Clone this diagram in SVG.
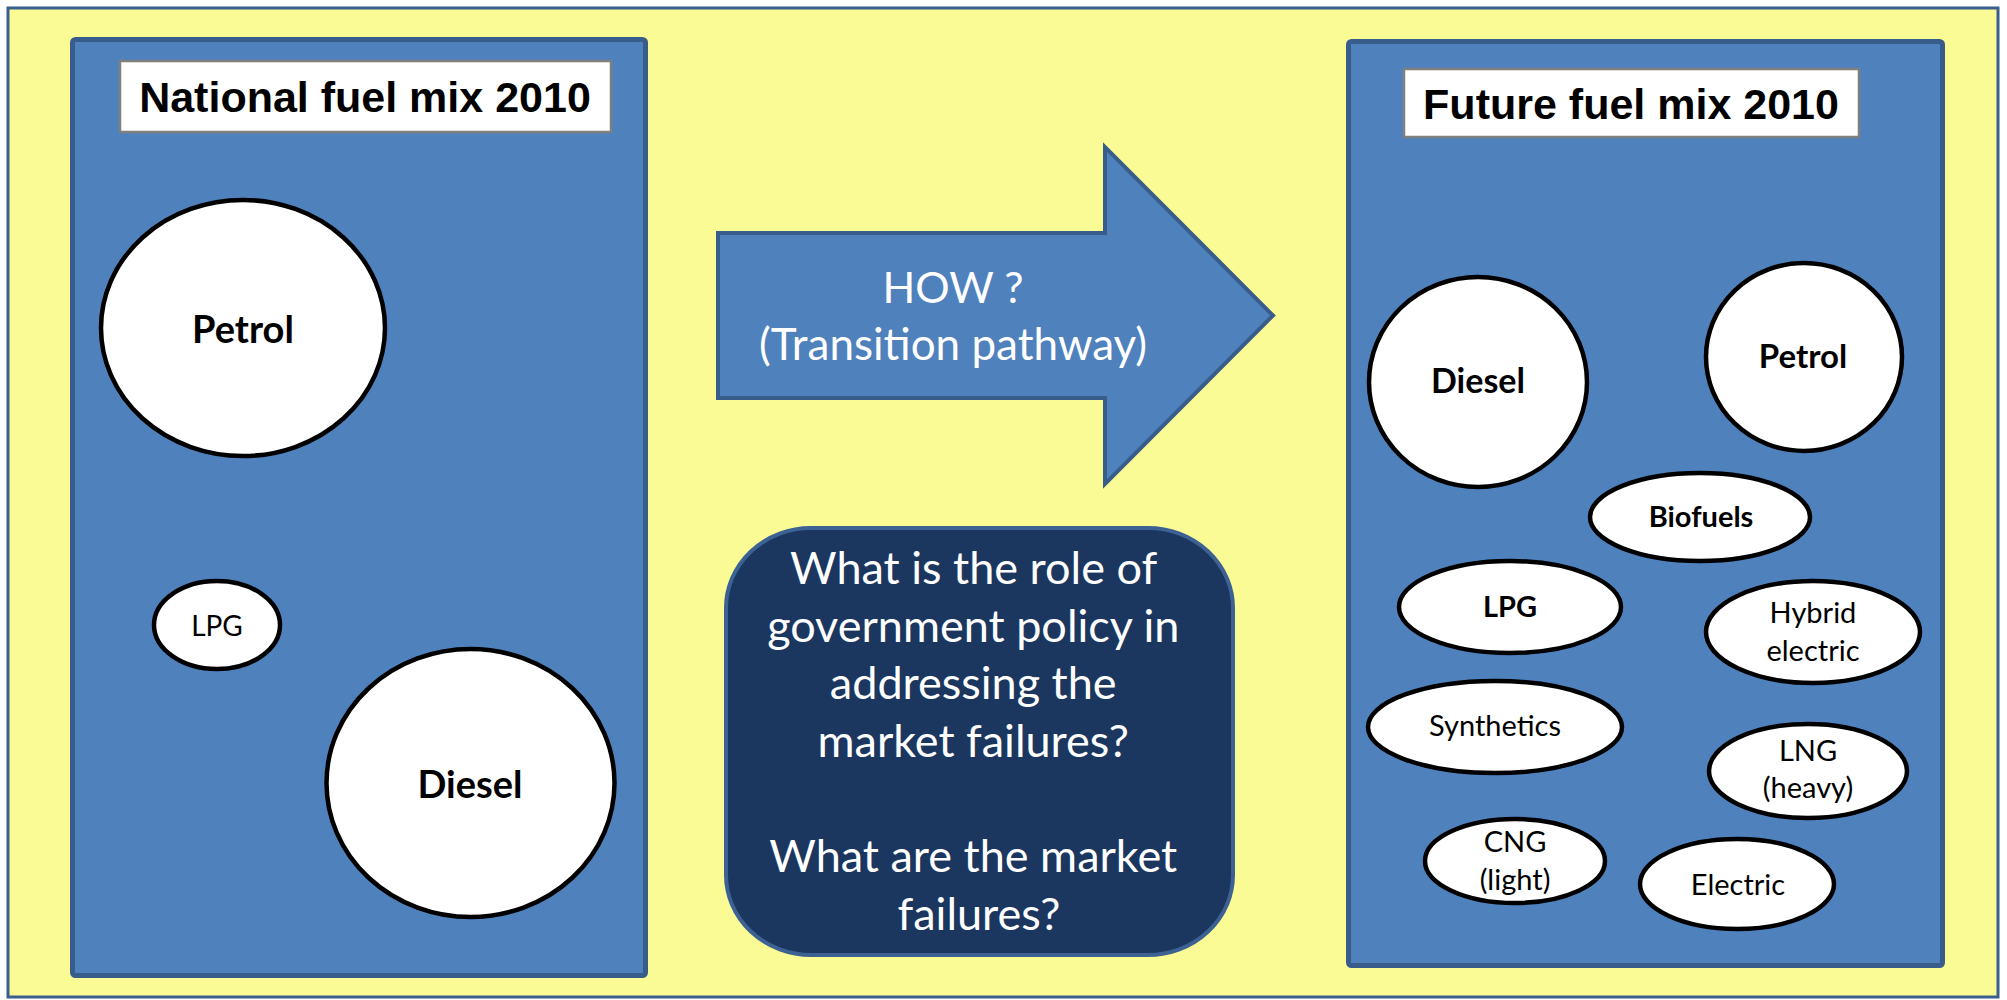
<svg xmlns="http://www.w3.org/2000/svg" width="2007" height="1000" viewBox="0 0 2007 1000">
<style>
.bg{fill:#FBFB96;stroke:#3A5F8F;stroke-width:3}
.panel{fill:#4F81BD;stroke:#385D8A;stroke-width:5}
.title{fill:#FFFFFF;stroke:#7F7F7F;stroke-width:2.5}
.title-t{font-family:"Liberation Sans",Arial,sans-serif;font-weight:bold;font-size:43px;fill:#000;text-anchor:middle}
.fuel{fill:#FFFFFF;stroke:#000;stroke-width:4.5}
.ft{font-family:Lato,"Open Sans",sans-serif;fill:#000;text-anchor:middle}
.b{font-weight:bold}
.arrow{fill:#4F81BD;stroke:#385D8A;stroke-width:4}
.q{fill:#1B375F;stroke:#3C6192;stroke-width:4}
.wt{font-family:Lato,"Open Sans",sans-serif;fill:#FFFFFF;text-anchor:middle}
</style>
<rect x="0" y="0" width="2007" height="1000" fill="#FFFFFF"/>
<rect id="background" class="bg" x="8" y="8" width="1990" height="989"/>

<g id="panel-national">
<rect class="panel" x="72.5" y="39.5" width="573" height="936" rx="3"/>
</g>
<g id="title-national">
<rect class="title" x="120" y="61" width="491" height="71"/>
<text class="title-t" x="365" y="112">National fuel mix 2010</text>
</g>
<g id="nat-petrol">
<ellipse class="fuel" cx="243" cy="328" rx="142" ry="128"/>
<text class="ft b" x="243" y="343" font-size="38">Petrol</text>
</g>
<g id="nat-lpg">
<ellipse class="fuel" cx="217" cy="625" rx="63" ry="44"/>
<text class="ft" x="217" y="636" font-size="28">LPG</text>
</g>
<g id="nat-diesel">
<ellipse class="fuel" cx="470.5" cy="783" rx="144" ry="134"/>
<text class="ft b" x="470" y="798" font-size="38">Diesel</text>
</g>

<g id="transition-arrow">
<polygon class="arrow" points="718,233 1105,233 1105,147 1273,315.5 1105,484 1105,398 718,398"/>
<text class="wt" x="953" y="303" font-size="43">HOW ?</text>
<text class="wt" x="953" y="360" font-size="44">(Transition pathway)</text>
</g>

<g id="policy-question">
<rect class="q" x="726" y="528" width="507" height="427" rx="85" ry="80"/>
<text class="wt" font-size="45">
<tspan x="979" y="584">What is the role of</tspan>
<tspan x="979" y="642">government policy in</tspan>
<tspan x="979" y="699">addressing the</tspan>
<tspan x="979" y="757">market failures?</tspan>
<tspan x="979" y="872">What are the market</tspan>
<tspan x="979" y="930">failures?</tspan>
</text>
</g>

<g id="panel-future">
<rect class="panel" x="1348.5" y="41.5" width="594" height="924" rx="3"/>
</g>
<g id="title-future">
<rect class="title" x="1404" y="69" width="455" height="68"/>
<text class="title-t" x="1631" y="119">Future fuel mix 2010</text>
</g>
<g id="fut-diesel">
<ellipse class="fuel" cx="1478" cy="382" rx="109" ry="105"/>
<text class="ft b" x="1478" y="393" font-size="34">Diesel</text>
</g>
<g id="fut-petrol">
<ellipse class="fuel" cx="1804" cy="357" rx="98" ry="94"/>
<text class="ft b" x="1803" y="368" font-size="33">Petrol</text>
</g>
<g id="fut-biofuels">
<ellipse class="fuel" cx="1700" cy="517" rx="110" ry="44"/>
<text class="ft b" x="1701" y="527" font-size="29">Biofuels</text>
</g>
<g id="fut-lpg">
<ellipse class="fuel" cx="1510" cy="607" rx="111" ry="46"/>
<text class="ft b" x="1510" y="617" font-size="29">LPG</text>
</g>
<g id="fut-hybrid">
<ellipse class="fuel" cx="1813" cy="632" rx="107" ry="51"/>
<text class="ft" font-size="29"><tspan x="1813" y="623">Hybrid</tspan><tspan x="1813" y="661">electric</tspan></text>
</g>
<g id="fut-synthetics">
<ellipse class="fuel" cx="1495" cy="727" rx="127" ry="46"/>
<text class="ft" x="1495" y="736" font-size="29">Synthetics</text>
</g>
<g id="fut-lng">
<ellipse class="fuel" cx="1808" cy="771" rx="99" ry="47"/>
<text class="ft" font-size="29"><tspan x="1808" y="761">LNG</tspan><tspan x="1808" y="798">(heavy)</tspan></text>
</g>
<g id="fut-cng">
<ellipse class="fuel" cx="1515" cy="861" rx="90" ry="42"/>
<text class="ft" font-size="29"><tspan x="1515" y="852">CNG</tspan><tspan x="1515" y="890">(light)</tspan></text>
</g>
<g id="fut-electric">
<ellipse class="fuel" cx="1737" cy="884" rx="97" ry="45"/>
<text class="ft" x="1738" y="895" font-size="29">Electric</text>
</g>

<g id="connectors"></g>
</svg>
